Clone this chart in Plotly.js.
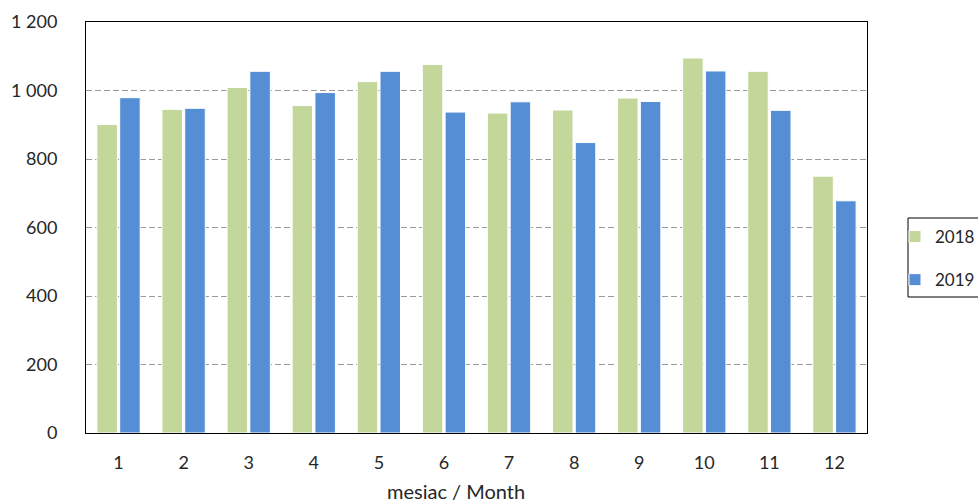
<!DOCTYPE html>
<html>
<head>
<meta charset="utf-8">
<script src="https://cdn.plot.ly/plotly-3.0.1.min.js"></script>
<style>html,body{margin:0;padding:0;background:#fff;}#chart{width:978px;height:504px;}</style>
</head>
<body>
<div id="chart"></div>
<script>
const months = ['1','2','3','4','5','6','7','8','9','10','11','12'];
const values2018 = [901, 945, 1009, 956, 1026, 1076, 934, 943, 978, 1095, 1056, 750];
const values2019 = [979, 948, 1056, 994, 1056, 937, 967, 848, 968, 1057, 942, 678];
const seriesNames = ['2018', '2019'];
const colors = ['#C4D79B', '#558ED5'];
const xTitle = 'mesiac / Month';

const traces = [values2018, values2019].map((v, i) => ({
  type: 'bar',
  x: months,
  y: v,
  name: seriesNames[i],
  legendgroup: 'g' + i,
  marker: {color: colors[i], line: {color: '#ffffff', width: 1}},
  hoverinfo: 'x+y+name'
}));

const layout = {
  width: 978, height: 504,
  margin: {l: 86, r: 111, t: 22, b: 71, autoexpand: false},
  paper_bgcolor: '#ffffff', plot_bgcolor: '#ffffff',
  font: {family: 'Lato, "Liberation Sans", sans-serif', size: 18, color: '#262626'},
  separators: ', ',
  barmode: 'group',
  bargap: 0.3,
  bargroupgap: 0.1,
  showlegend: true,
  legend: {
    xref: 'container', yref: 'container',
    x: 895 / 978, xanchor: 'left', y: 1 - 219 / 504, yanchor: 'top',
    borderwidth: 0, bgcolor: 'rgba(0,0,0,0)',
    font: {size: 17, color: '#262626'},
    traceorder: 'grouped', tracegroupgap: 18,
    itemwidth: 30
  },
  shapes: [{
    type: 'rect', xref: 'paper', yref: 'paper',
    x0: (908 - 86) / 781, x1: 1.2,
    y0: (433 - 297) / 411, y1: (433 - 218) / 411,
    line: {color: '#000000', width: 1}, fillcolor: 'rgba(0,0,0,0)', layer: 'below'
  }],
  annotations: [{
    text: xTitle, xref: 'paper', yref: 'paper',
    x: (456 - 86) / 781, y: (433 - 491) / 411,
    xanchor: 'center', yanchor: 'middle', showarrow: false,
    font: {size: 20, color: '#262626'}
  }],
  xaxis: {
    type: 'category',
    showline: true, linecolor: '#000000', linewidth: 1, mirror: true,
    ticks: '', ticklabelstandoff: 13
  },
  yaxis: {
    range: [0, 1200], dtick: 200, tick0: 0,
    showline: true, linecolor: '#000000', linewidth: 1, mirror: true,
    showgrid: true, gridcolor: '#9a9a9a', griddash: '6px,3px', gridwidth: 1,
    zeroline: false,
    ticks: '', ticklabelstandoff: 24,
    tickformat: ',d'
  }
};

Plotly.newPlot('chart', traces, layout, {displayModeBar: false, staticPlot: true});
</script>
</body>
</html>
